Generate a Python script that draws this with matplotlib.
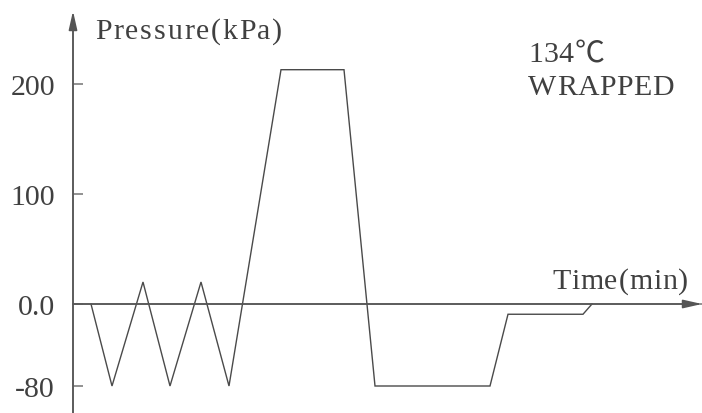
import numpy as np
import matplotlib
matplotlib.use("Agg")
import matplotlib.pyplot as plt

# Sterilisation cycle profile (134 °C, wrapped load)
time_min = [1.8, 3.9, 7.0, 9.7, 12.8, 15.6, 20.8, 27.1, 30.2, 41.7, 43.5, 51.0, 51.9]
pressure_kpa = [0, -80, 20, -80, 20, -80, 213, 213, -80, -80, -10, -10, 0]

y_ticks = [-80, 0, 100, 200]
y_tick_labels = ["-80", "0.0", "100", "200"]

TEXT = "#404040"
AXIS = "#7f7f7f"
LINE = "#4a4a4a"
FONT = ["Liberation Serif", "Noto Sans CJK SC", "DejaVu Serif"]

plt.rcParams["font.family"] = FONT


# vacuum part of the axis is drawn slightly compressed
def fwd(y):
    y = np.asarray(y, dtype=float)
    return np.where(y >= 0, y * 1.1, y * 1.025)


def inv(v):
    v = np.asarray(v, dtype=float)
    return np.where(v >= 0, v / 1.1, v / 1.025)


W, H = 702, 414
fig = plt.figure(figsize=(W / 100, H / 100), dpi=100)
renderer = fig.canvas.get_renderer()


def spaced_text(x_px, base_px, s, size, tracking=0.0, ha="left"):
    """Draw a string one glyph at a time with extra letter spacing (pixels)."""
    widths = []
    for ch in s:
        t = fig.text(0, 0, ch, fontsize=size)
        widths.append(t.get_window_extent(renderer).width)
        t.remove()
    total = sum(widths) + tracking * (len(s) - 1)
    x = x_px if ha == "left" else x_px - total
    for ch, w in zip(s, widths):
        fig.text(x / W, 1 - base_px / H, ch, fontsize=size, color=TEXT,
                 ha="left", va="baseline")
        x += w + tracking


ax = fig.add_axes([73 / W, 0, (W - 73) / W, (H - 12) / H])
ax.set_yscale("function", functions=(fwd, inv))
ax.set_xlim(0, 62.9)
ax.set_ylim(inv(-109), inv(293))

ax.plot(time_min, pressure_kpa, color=LINE, lw=1.0, solid_joinstyle="miter")

for s in ax.spines.values():
    s.set_visible(False)

# axes drawn as arrows
ax.axhline(0, color=AXIS, lw=1.2, zorder=1)
ax.annotate("", xy=(1.0, 0), xytext=(0, 0), xycoords=ax.get_yaxis_transform(),
            arrowprops=dict(arrowstyle="-|>,head_length=0.75,head_width=0.17",
                            mutation_scale=15, color="#555555", lw=1.2,
                            shrinkA=0, shrinkB=0))
ax.annotate("", xy=(0, 1.0), xytext=(0, 0), xycoords=ax.get_xaxis_transform(),
            arrowprops=dict(arrowstyle="-|>,head_length=0.75,head_width=0.17",
                            mutation_scale=15, color="#555555", lw=1.2,
                            shrinkA=0, shrinkB=0))
ax.plot([0, 0], [inv(-109), inv(280)], color=AXIS, lw=1.2, clip_on=False)

ax.set_xticks([])
ax.set_yticks(y_ticks)
ax.set_yticklabels(y_tick_labels)
ax.yaxis.set_minor_locator(matplotlib.ticker.NullLocator())
ax.tick_params(axis="y", direction="in", length=7.5, width=1.2, color=AXIS,
               labelsize=21.5, labelcolor=TEXT, pad=13)

spaced_text(95, 39, "Pressure(kPa)", 21.5, tracking=1.8)
spaced_text(528, 62, "134℃", 21.5, tracking=0.5)
spaced_text(528, 95, "WRAPPED", 21.5, tracking=0.5)
spaced_text(688, 289, "Time(min)", 21.5, tracking=0.8, ha="right")

fig.savefig("out.png", dpi=100)
